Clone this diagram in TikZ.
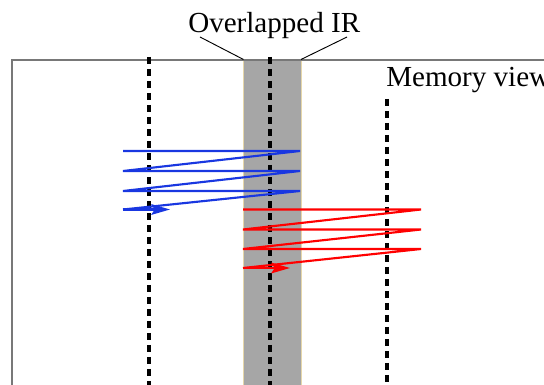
\documentclass[tikz,border=0pt]{standalone}
\usepackage{fontspec}
\setmainfont{Liberation Serif}
\usetikzlibrary{arrows.meta}
\definecolor{framegray}{RGB}{120,120,120}
\definecolor{bandgray}{RGB}{166,166,166}
\definecolor{bandedge}{RGB}{230,215,170}
\definecolor{walkblue}{RGB}{25,55,225}
\definecolor{walkred}{RGB}{255,0,0}
\begin{document}
\begin{tikzpicture}[x=0.75pt,y=-0.75pt,
  frameline/.style={draw=framegray,line width=1.4pt},
  boundary/.style={draw=black,line width=2.6pt,dash pattern=on 5pt off 4pt},
  leader/.style={draw=black,line width=0.7pt},
  walk/.style={line width=1.6pt},
  walkhead/.style={walk,-{Stealth[length=14pt,width=8pt,inset=2.5pt]}},
  label/.style={font=\fontsize{21.8}{26}\selectfont,inner sep=0pt,anchor=base west}]
\useasboundingbox (0,0) rectangle (544,385);

% overlapped region band
\fill[bandgray] (243,60) rectangle (301,390);
\draw[bandedge,line width=0.6pt] (243,390) -- (243,60) -- (301,60) -- (301,390);

% outer frame
\draw[frameline] (12,390) -- (12,60) -- (550,60);

% region boundaries
\coordinate (b1t) at (149,57);  \coordinate (b1b) at (149,390);
\coordinate (b2t) at (270,57);  \coordinate (b2b) at (270,390);
\coordinate (b3t) at (387,99);  \coordinate (b3b) at (387,390);
\draw[boundary] (b1t) -- (b1b);
\draw[boundary] (b2t) -- (b2b);
\draw[boundary] (b3t) -- (b3b);

% labels
\node[label] (ir) at (188,33) {Overlapped IR};
\node[label] (mem) at (386,86.5) {Memory view};
\coordinate (irL) at (200,37);  \coordinate (irR) at (347,37);
\coordinate (bandL) at (243.5,59.5); \coordinate (bandR) at (301,59.5);
\draw[leader] (irL) -- (bandL);
\draw[leader] (irR) -- (bandR);

% blue access walk
\coordinate (bl1) at (123,151); \coordinate (br1) at (300,151);
\coordinate (bl2) at (123,171); \coordinate (br2) at (300,171);
\coordinate (bl3) at (123,191); \coordinate (br3) at (300,191);
\coordinate (bl4) at (123,209.5); \coordinate (bend) at (170,209.5);
\draw[walk,walkblue] (bl1) -- (br1) -- (bl2) -- (br2) -- (bl3) -- (br3) -- (bl4);
\draw[walkhead,walkblue] (bl4) -- (bend);

% red access walk
\coordinate (rl1) at (243,209.5); \coordinate (rr1) at (421,209.5);
\coordinate (rl2) at (243,229.5); \coordinate (rr2) at (421,229.5);
\coordinate (rl3) at (243,249);   \coordinate (rr3) at (421,249);
\coordinate (rl4) at (243,268);   \coordinate (rend) at (290,268);
\draw[walk,walkred] (rl1) -- (rr1) -- (rl2) -- (rr2) -- (rl3) -- (rr3) -- (rl4);
\draw[walkhead,walkred] (rl4) -- (rend);
\end{tikzpicture}
\end{document}
